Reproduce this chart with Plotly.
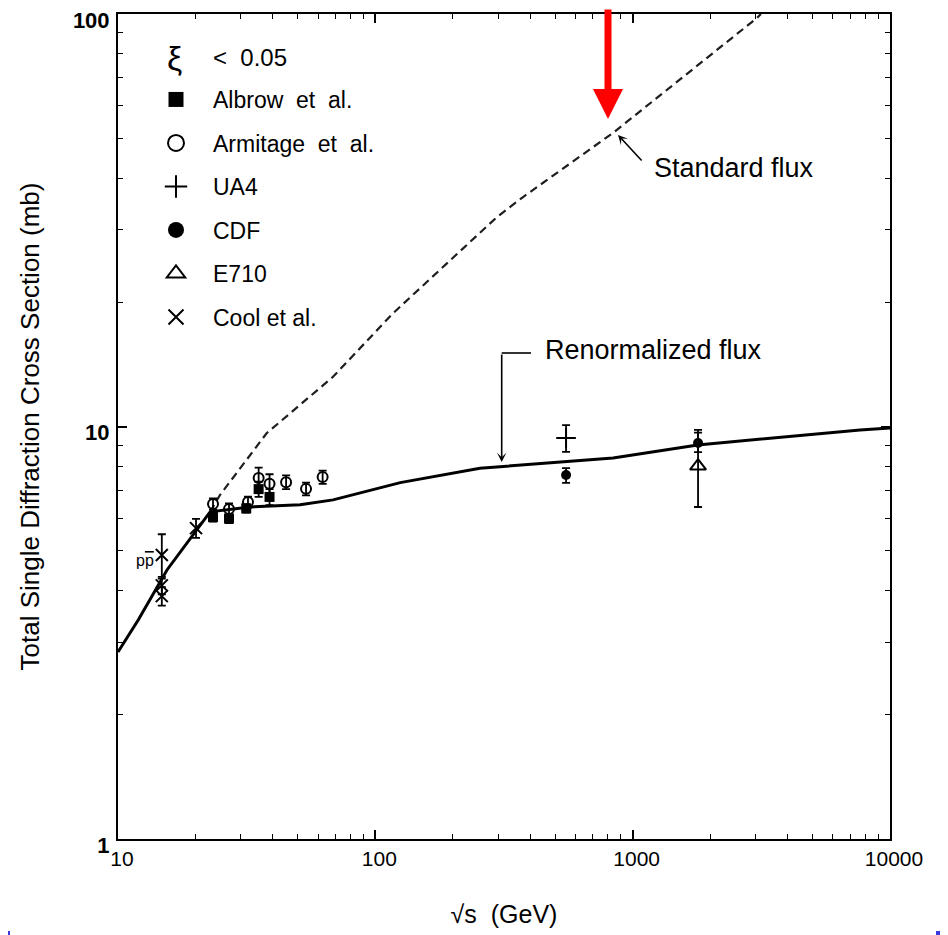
import plotly.graph_objects as go

# ---------------- data ----------------
renorm_x = [10, 12, 15.5, 22.8, 32.6, 51, 68.5, 125, 255, 551, 839, 1790, 7650, 10000]
renorm_y = [2.84, 3.40, 4.49, 6.21, 6.38, 6.46, 6.64, 7.31, 7.92, 8.22, 8.39, 9.02, 9.81, 9.92]

std_x = [22.8, 24.9, 37.8, 68.5, 117, 297, 375, 839, 3040, 3150]
std_y = [6.21, 6.82, 9.63, 13.2, 18.8, 32.2, 36.0, 51.5, 97.8, 100]

albrow_x = [23.4, 27.0, 31.5, 35.2, 38.8]
albrow_y = [6.03, 5.98, 6.33, 7.05, 6.75]
albrow_err = [0.15, 0.15, 0.15, 0.3, 0.3]

armitage_x = [23.4, 27.0, 32.0, 35.2, 38.8, 45.0, 53.8, 62.4]
armitage_y = [6.49, 6.31, 6.56, 7.50, 7.26, 7.33, 7.06, 7.54]
armitage_err = [0.2, 0.2, 0.2, 0.45, 0.4, 0.28, 0.25, 0.28]

ua4_x = [551]
ua4_y = [9.38]
ua4_err = [0.7]

cdf_x = [551, 1795]
cdf_y = [7.63, 9.12]
cdf_err_plus = [0.3, 0.69]
cdf_err_minus = [0.33, 0.45]

e710_x = [1795]
e710_y = [8.02]
e710_err = [1.64]

cool_x = [14.8, 14.8, 14.8, 20.1]
cool_y = [4.88, 4.12, 3.88, 5.67]
cool_err = [0.6, 0.2, 0.2, 0.3]

x_ticks = [10, 100, 1000, 10000]
x_ticktext = ["10", "100", "1000", "10000"]
y_ticks = [1, 10, 100]
y_ticktext = ["1", "10", "100"]

FONT = "Liberation Sans, Arial, sans-serif"

# ------------- layout (page has an 8px body margin) -------------
OFF = 8
W, H = 948 - OFF, 935 - OFF
L, R, T, B = 110, 58, 6, 96
PL, PT = L + OFF, T + OFF            # plot-area top-left on the page
PW, PH = W - L - R, H - T - B


def px(x):
    return (x - PL) / PW


def py(y):
    return (PT + PH - y) / PH


fig = go.Figure()

# curves
fig.add_trace(go.Scatter(x=std_x, y=std_y, mode="lines", showlegend=False,
                         line=dict(color="#1e1e1e", width=2.2, dash="8px,5px")))
fig.add_trace(go.Scatter(x=renorm_x, y=renorm_y, mode="lines", showlegend=False,
                         line=dict(color="black", width=3)))


def eb(arr, minus=None):
    d = dict(type="data", array=arr, color="black", thickness=1.8, width=4)
    if minus is not None:
        d["arrayminus"] = minus
        d["symmetric"] = False
    return d


series = [
    ("Albrow  et  al.", albrow_x, albrow_y, eb(albrow_err),
     dict(symbol="square", size=10, color="black"),
     dict(symbol="square", size=15, color="black")),
    ("Armitage  et  al.", armitage_x, armitage_y, eb(armitage_err),
     dict(symbol="circle-open", size=10, color="black", line=dict(width=2)),
     dict(symbol="circle-open", size=16, color="black", line=dict(width=2))),
    ("UA4", ua4_x, ua4_y, eb(ua4_err),
     dict(symbol="cross-thin-open", size=14, color="black", line=dict(width=2, color="black")),
     dict(symbol="cross-thin-open", size=16, color="black", line=dict(width=2, color="black"))),
    ("CDF", cdf_x, cdf_y, eb(cdf_err_plus, cdf_err_minus),
     dict(symbol="circle", size=10, color="black"),
     dict(symbol="circle", size=16, color="black")),
    ("E710", e710_x, e710_y, eb(e710_err),
     dict(symbol="triangle-up-open", size=14, color="black", line=dict(width=2)),
     dict(symbol="triangle-up-open", size=16, color="black", line=dict(width=2))),
    ("Cool et al.", cool_x, cool_y, eb(cool_err),
     dict(symbol="x-thin-open", size=12, color="black", line=dict(width=2, color="black")),
     dict(symbol="x-thin-open", size=15, color="black", line=dict(width=2, color="black"))),
]

for i, (name, xs, ys, err, mk, legmk) in enumerate(series):
    fig.add_trace(go.Scatter(x=xs, y=ys, mode="markers", name=name, showlegend=False,
                             legendgroup=f"g{i}", marker=mk, error_y=err))
    # legend-only entry with a larger symbol (no data drawn)
    fig.add_trace(go.Scatter(x=[None], y=[None], mode="markers", name=name,
                             legendgroup=f"g{i}", marker=legmk, showlegend=True))

axis_common = dict(
    type="log", showgrid=False, zeroline=False, showline=True, linecolor="black",
    linewidth=2, mirror="allticks", ticks="inside", ticklen=9, tickwidth=1.5,
    tickcolor="black", automargin=False, ticklabeloverflow="allow",
    minor=dict(ticks="inside", ticklen=5, tickwidth=1.2, tickcolor="black", dtick="D1", showgrid=False),
)

fig.update_xaxes(
    **axis_common, range=[1, 4], tickvals=x_ticks, ticktext=x_ticktext,
    tickfont=dict(family=FONT, size=21, color="black"), ticklabelshift=4,
    title=dict(text="√s  (GeV)", font=dict(family=FONT, size=25, color="black"), standoff=36),
)
fig.update_yaxes(
    **axis_common, range=[0, 2], tickvals=y_ticks, ticktext=y_ticktext,
    tickfont=dict(family=FONT, size=22, color="black", weight="bold"),
    ticklabelshift=6, ticklabelstandoff=2,
    title=dict(text="Total Single Diffraction Cross Section (mb)",
               font=dict(family=FONT, size=26, color="black"), standoff=26),
)

annotations = [
    dict(text="ξ", x=px(174), y=py(58), xref="paper", yref="paper", showarrow=False,
         font=dict(family=FONT, size=34, color="black"), xanchor="center", yanchor="middle"),
    dict(text="<  0.05", x=px(211), y=py(57), xref="paper", yref="paper", showarrow=False,
         font=dict(family=FONT, size=24, color="black"), xanchor="left", yanchor="middle"),
    dict(text="Renormalized flux", x=px(543), y=py(350), xref="paper", yref="paper",
         showarrow=False, font=dict(family=FONT, size=27, color="black"),
         xanchor="left", yanchor="middle"),
    dict(text="Standard flux", x=px(652), y=py(168), xref="paper", yref="paper",
         showarrow=False, font=dict(family=FONT, size=27, color="black"),
         xanchor="left", yanchor="middle"),
    dict(text="p<span style='text-decoration:overline'>p</span>", x=px(145), y=py(560),
         xref="paper", yref="paper", showarrow=False,
         font=dict(family=FONT, size=16, color="black"), xanchor="center", yanchor="middle"),
    # arrows
    dict(text="", x=px(501.7), y=py(462), xref="paper", yref="paper", showarrow=True,
         ax=0, ay=-109, arrowhead=3, arrowsize=1.0, arrowwidth=1.6, arrowcolor="black", standoff=0),
    dict(text="", x=px(618), y=py(135), xref="paper", yref="paper", showarrow=True,
         ax=25, ay=27, arrowhead=3, arrowsize=1.0, arrowwidth=1.6, arrowcolor="black", standoff=0),
    dict(text="", x=px(608), y=py(119), xref="paper", yref="paper", showarrow=True,
         ax=0, ay=-119, arrowhead=2, arrowsize=0.86, arrowwidth=7, arrowcolor="#ff0000", standoff=0),
]

shapes = [
    dict(type="line", xref="paper", yref="paper", x0=px(501.7), x1=px(531),
         y0=py(353), y1=py(353), line=dict(color="black", width=1.6)),
    dict(type="rect", xref="paper", yref="paper", x0=px(0), x1=px(10), y0=py(935), y1=py(931),
         line=dict(width=0), fillcolor="#3a3adf"),
    dict(type="rect", xref="paper", yref="paper", x0=px(936), x1=px(948), y0=py(935), y1=py(931),
         line=dict(width=0), fillcolor="#3a3adf"),
]

fig.update_layout(
    width=W, height=H, autosize=False,
    margin=dict(l=L, r=R, t=T, b=B, autoexpand=False),
    paper_bgcolor="white", plot_bgcolor="white",
    font=dict(family=FONT, color="black"),
    annotations=annotations, shapes=shapes,
    legend=dict(x=px(139), y=py(78), xanchor="left", yanchor="top",
                bgcolor="rgba(0,0,0,0)", font=dict(family=FONT, size=23, color="black"),
                tracegroupgap=10.6, itemwidth=64),
)

fig.write_html("out.html")
